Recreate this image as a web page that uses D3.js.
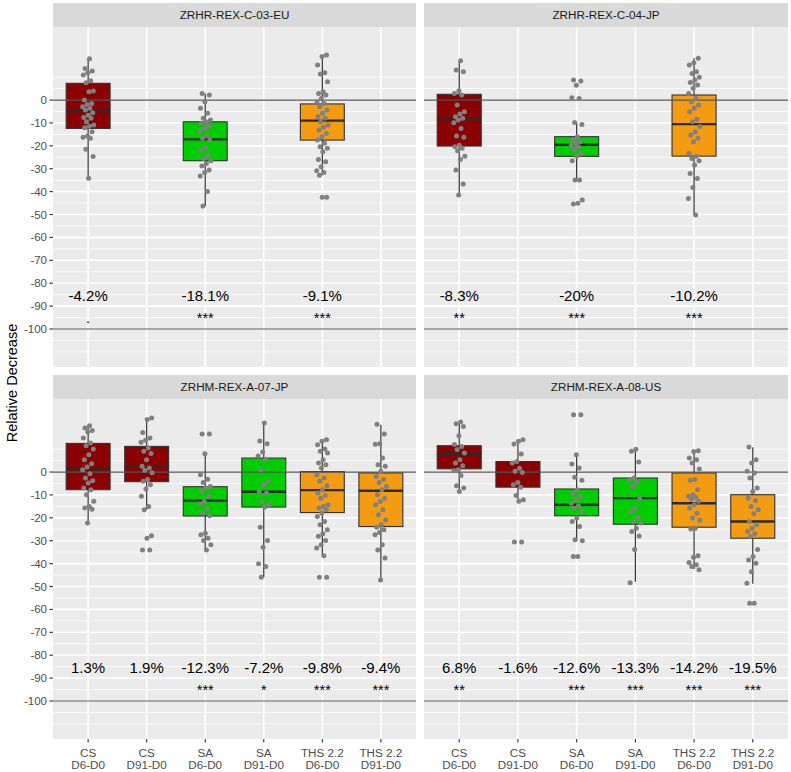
<!DOCTYPE html>
<html><head><meta charset="utf-8">
<script src="https://cdn.jsdelivr.net/npm/d3@7"></script>
<style>
body{margin:0;background:#fff}
svg{display:block}
text{font-family:"Liberation Sans",Arial,Helvetica,sans-serif}
</style>
</head><body>
<svg id="chart" width="791" height="772"></svg>
<script>
// ---------- data ----------
const categories = ["CS D6-D0","CS D91-D0","SA D6-D0","SA D91-D0","THS 2.2 D6-D0","THS 2.2 D91-D0"];
const catProduct = ["CS","CS","SA","SA","THS 2.2","THS 2.2"];
const catPeriod  = ["D6-D0","D91-D0","D6-D0","D91-D0","D6-D0","D91-D0"];
const products = ["CS","SA","THS 2.2"];
const productColors = ["#8B0000","#00CD00","#F39C12"];
const panelTitles = ["ZRHR-REX-C-03-EU","ZRHR-REX-C-04-JP","ZRHM-REX-A-07-JP","ZRHM-REX-A-08-US"];
const yTicks = [0,-10,-20,-30,-40,-50,-60,-70,-80,-90,-100];
const yMinor = [10,5,-5,-15,-25,-35,-45,-55,-65,-75,-85,-95,-105,-110];
const refLines = [0,-100];

// box statistics per panel: [category, lower whisker, q1, median, q3, upper whisker]
const statsC03 = [[0,-34.2,-12.4,-4.8,7.3,17.9],[2,-46.3,-26.5,-17.2,-9.5,2.9],[4,-32.8,-17.5,-9.0,-1.7,19.7]];
const statsC04 = [[0,-41.5,-20.1,-8.3,2.5,17.0],[2,-34.9,-24.6,-19.5,-16.0,-9.8],[4,-50.2,-24.5,-10.5,2.2,18.2]];
const statsA07 = [[0,-22.3,-7.7,1.3,12.5,20.2],[1,-16.5,-4.2,2.5,11.2,23.6],[2,-34.0,-19.2,-12.5,-6.4,7.9],
                  [3,-45.9,-15.3,-8.6,6.1,21.4],[4,-36.6,-17.7,-7.9,0.2,13.8],[5,-47.1,-23.8,-8.2,-0.4,20.7]];
const statsA08 = [[0,-8.5,1.4,8.0,11.5,21.4],[1,-11.8,-6.6,-0.3,4.6,13.7],[2,-30.0,-19.1,-14.3,-7.4,8.0],
                  [3,-47.9,-22.8,-11.4,-2.6,10.0],[4,-42.4,-24.1,-13.6,-0.4,9.3],[5,-48.8,-28.9,-21.6,-9.9,10.8]];

// individual observations per panel, keyed by category index
const pointsC03 = {
  0:[18.0,13.8,12.7,11.9,10.9,8.4,7.6,3.9,3.6,0,-1.5,-1.9,-2.9,-3.6,-4.4,-5.5,-6.6,-7.6,-8.0,-9.5,-10.9,-11.4,-12.1,-13.8,-15.7,-16.3,-16.7,-21.5,-24.7,-34.2],
  2:[2.9,2.2,-0.7,-3.6,-5.8,-8.0,-8.7,-9.5,-10.2,-11.4,-12.4,-13.8,-15.3,-16.7,-17.5,-20.7,-21.8,-24.0,-25.5,-26.5,-27.7,-28.8,-30.6,-31.7,-33.2,-40.0,-46.3],
  4:[19.7,19.0,15.3,11.9,11.4,8.0,3.6,2.9,2.2,0.7,-0.7,-1.5,-2.9,-4.4,-5.8,-7.3,-8.0,-9.5,-10.9,-11.9,-13.1,-14.6,-16.0,-17.5,-18.9,-20.4,-21.1,-22.6,-26.0,-27.0,-29.1,-30.9,-31.6,-32.8,-42.5,-42.5]
};
const pointsC04 = {
  0:[17.2,13.1,12.4,4.1,2.9,2.2,-2.2,-5.1,-6.1,-7.3,-8.0,-8.7,-9.9,-12.4,-15.7,-16.3,-19.7,-20.4,-21.1,-22.1,-24.5,-26.0,-30.6,-36.7,-41.5],
  2:[8.7,8.3,6.5,1.0,0.7,-9.8,-10.7,-16.0,-17.5,-18.2,-19.0,-19.7,-20.4,-21.8,-23.3,-24.5,-26.5,-34.9,-34.9,-43.7,-45.1,-45.4],
  4:[18.2,16.3,15.3,12.4,11.6,9.9,8.7,7.7,6.6,5.1,2.9,0.7,-0.7,-2.2,-3.6,-5.1,-8.4,-9.5,-11.6,-13.8,-15.3,-16.7,-18.2,-23.3,-24.5,-25.5,-26.5,-28.4,-32.1,-34.3,-38.2,-43.0,-50.2]
};
const pointsA07 = {
  0:[20.2,19.2,18.1,17.5,14.9,12.7,11.5,10.1,7.6,5.4,3.6,2.2,1.0,-0.7,-2.6,-3.8,-4.8,-7.0,-7.7,-9.9,-12.8,-15.0,-15.7,-16.2,-22.3],
  1:[23.6,22.9,17.3,14.9,13.9,13.0,10.5,9.1,8.1,5.4,2.5,1.8,0.8,-0.3,-3.3,-4.0,-5.5,-7.4,-10.6,-15.0,-16.5,-27.8,-28.9,-34.0,-34.0],
  2:[16.6,16.6,8.0,-1.2,-3.1,-4.6,-6.3,-7.0,-8.5,-10.6,-12.9,-14.0,-15.8,-17.9,-19.1,-26.7,-27.4,-28.9,-29.9,-31.8,-34.0],
  3:[21.4,13.6,12.4,8.7,7.0,5.4,1.0,-4.0,-5.5,-8.5,-9.2,-12.9,-14.3,-15.3,-24.1,-29.9,-32.8,-40.1,-41.3,-45.9],
  4:[14.1,13.4,11.9,10.1,9.1,8.3,5.4,4.0,3.2,1.8,-1.2,-2.6,-4.0,-6.0,-7.7,-9.2,-10.3,-11.4,-14.3,-15.0,-15.7,-16.5,-17.9,-19.4,-21.6,-23.0,-25.2,-26.9,-28.1,-29.9,-31.8,-33.2,-36.6,-45.9,-45.9],
  5:[20.9,16.6,12.4,12.1,6.1,3.2,2.5,0.3,-1.9,-3.3,-4.6,-6.3,-7.7,-9.9,-11.4,-12.9,-14.3,-16.5,-18.7,-20.9,-23.0,-24.1,-25.2,-26.4,-27.4,-31.8,-34.0,-37.6,-47.1]
};
const pointsA08 = {
  0:[21.8,21.1,19.9,15.9,12.0,11.2,9.8,8.3,5.4,4.0,2.8,1.0,0.6,-1.5,-6.0,-7.0,-8.5],
  1:[14.1,13.4,12.2,7.9,4.6,3.9,1.7,0.3,-0.2,-4.6,-5.5,-6.6,-10.3,-12.1,-12.8,-30.6,-30.6],
  2:[25.0,25.0,7.6,3.5,1.8,-2.3,-3.6,-7.7,-9.2,-10.6,-12.1,-13.6,-14.7,-15.8,-17.2,-20.1,-21.6,-23.8,-29.6,-30.0,-36.9,-36.9],
  3:[10.0,9.1,4.4,-2.6,-3.3,-4.5,-6.3,-11.4,-15.8,-17.2,-19.7,-21.6,-22.3,-24.5,-26.0,-27.9,-33.8,-48.4],
  4:[9.3,9.0,6.1,5.4,4.0,1.3,-3.3,-3.6,-7.7,-9.9,-10.6,-11.1,-11.8,-12.8,-14.3,-15.8,-18.0,-20.1,-21.1,-24.5,-24.9,-36.6,-37.2,-39.5,-40.5,-41.3,-42.7],
  5:[10.9,5.4,4.0,0.3,-0.4,-2.6,-7.0,-8.5,-11.4,-12.4,-15.0,-16.5,-18.2,-21.6,-23.0,-24.5,-26.0,-27.0,-28.2,-33.8,-36.9,-38.4,-39.8,-43.5,-48.6,-57.3,-57.3]
};

// annotation: percent change and significance per category
const pctC03 = [[0,"-4.2%","."],[2,"-18.1%","***"],[4,"-9.1%","***"]];
const pctC04 = [[0,"-8.3%","**"],[2,"-20%","***"],[4,"-10.2%","***"]];
const pctA07 = [[0,"1.3%",""],[1,"1.9%",""],[2,"-12.3%","***"],[3,"-7.2%","*"],[4,"-9.8%","***"],[5,"-9.4%","***"]];
const pctA08 = [[0,"6.8%","**"],[1,"-1.6%",""],[2,"-12.6%","***"],[3,"-13.3%","***"],[4,"-14.2%","***"],[5,"-19.5%","***"]];
const labelY = -87.7, sigY = -97.6;

// ---------- layout ----------
const svg = d3.select("#chart");
const W = 791, H = 772;
svg.append("rect").attr("width",W).attr("height",H).attr("fill","#fff");

const panelDefs = [
  {title:panelTitles[0], stats:statsC03, pts:pointsC03, pct:pctC03, x0:53,  x1:416, y0:27,  y1:367, left:true,  bottom:false},
  {title:panelTitles[1], stats:statsC04, pts:pointsC04, pct:pctC04, x0:424, x1:788, y0:27,  y1:367, left:false, bottom:false},
  {title:panelTitles[2], stats:statsA07, pts:pointsA07, pct:pctA07, x0:53,  x1:416, y0:399, y1:739, left:true,  bottom:true},
  {title:panelTitles[3], stats:statsA08, pts:pointsA08, pct:pctA08, x0:424, x1:788, y0:399, y1:739, left:false, bottom:true}
];
const stripH = 24;
const boxW = 0.75;
const jitterW = 0.1;
const colorScale = d3.scaleOrdinal().domain(products).range(productColors);

panelDefs.forEach(p => {
  const x = d3.scaleLinear().domain([0.4, categories.length + 0.6]).range([p.x0, p.x1]);
  const y = d3.scaleLinear().domain([-116.6, 31.9]).range([p.y1, p.y0]);
  const g = svg.append("g");

  // strip
  g.append("rect").attr("x",p.x0).attr("y",p.y0-stripH).attr("width",p.x1-p.x0).attr("height",stripH).attr("fill","#d9d9d9");
  g.append("text").attr("x",(p.x0+p.x1)/2).attr("y",p.y0-stripH/2).attr("dy","0.35em")
    .attr("text-anchor","middle").attr("font-size",11.7).attr("fill","#1a1a1a").text(p.title);

  // panel background
  g.append("rect").attr("x",p.x0).attr("y",p.y0).attr("width",p.x1-p.x0).attr("height",p.y1-p.y0).attr("fill","#ebebeb");

  // grid
  g.selectAll(".ymin").data(yMinor).enter().append("line")
    .attr("x1",p.x0).attr("x2",p.x1).attr("y1",d=>y(d)).attr("y2",d=>y(d))
    .attr("stroke","#fff").attr("stroke-width",0.8);
  g.selectAll(".ymaj").data(yTicks).enter().append("line")
    .attr("x1",p.x0).attr("x2",p.x1).attr("y1",d=>y(d)).attr("y2",d=>y(d))
    .attr("stroke","#fff").attr("stroke-width",1.6);
  g.selectAll(".xmaj").data(categories).enter().append("line")
    .attr("x1",(d,i)=>x(i+1)).attr("x2",(d,i)=>x(i+1)).attr("y1",p.y0).attr("y2",p.y1)
    .attr("stroke","#fff").attr("stroke-width",1.6);

  // boxes
  const bg = g.append("g");
  p.stats.forEach(s => {
    const [ci, lo, q1, med, q3, hi] = s;
    const cx = x(ci+1);
    const hw = (x(1+boxW/2) - x(1-boxW/2))/2;
    bg.append("line").attr("x1",cx).attr("x2",cx).attr("y1",y(hi)).attr("y2",y(q3)).attr("stroke","#333").attr("stroke-width",1.2);
    bg.append("line").attr("x1",cx).attr("x2",cx).attr("y1",y(q1)).attr("y2",y(lo)).attr("stroke","#333").attr("stroke-width",1.2);
    bg.append("rect").attr("x",cx-hw).attr("y",y(q3)).attr("width",hw*2).attr("height",y(q1)-y(q3))
      .attr("fill",colorScale(catProduct[ci])).attr("stroke","#333").attr("stroke-width",1.1);
    bg.append("line").attr("x1",cx-hw).attr("x2",cx+hw).attr("y1",y(med)).attr("y2",y(med)).attr("stroke","#2a2a2a").attr("stroke-width",2.4);
  });

  // reference lines
  g.selectAll(".ref").data(refLines).enter().append("line")
    .attr("x1",p.x0).attr("x2",p.x1).attr("y1",d=>y(d)).attr("y2",d=>y(d))
    .attr("stroke","#555").attr("stroke-width",1.2);

  // jittered points (deterministic low-discrepancy offsets)
  Object.keys(p.pts).forEach(k => {
    const ci = +k;
    p.pts[k].forEach((v,i) => {
      const frac = ((i+1) * 0.6180339887 + ci*0.31) % 1;
      const off = (frac - 0.5) * 2 * jitterW;
      g.append("circle").attr("cx",x(ci+1+off)).attr("cy",y(v)).attr("r",2.5).attr("fill","#808080");
    });
  });

  // annotations
  p.pct.forEach(a => {
    const [ci, txt, sig] = a;
    g.append("text").attr("x",x(ci+1)).attr("y",y(labelY)).attr("text-anchor","middle")
      .attr("font-size",15).attr("fill","#000").text(txt);
    if (sig) g.append("text").attr("x",x(ci+1)).attr("y",y(sigY)).attr("text-anchor","middle")
      .attr("font-size",14.5).attr("fill","#000").text(sig);
  });

  // y axis
  if (p.left) {
    const ya = svg.append("g");
    yTicks.forEach(t => {
      ya.append("line").attr("x1",p.x0-3.6).attr("x2",p.x0).attr("y1",y(t)).attr("y2",y(t)).attr("stroke","#333").attr("stroke-width",1.1);
      ya.append("text").attr("x",p.x0-6).attr("y",y(t)).attr("dy","0.35em").attr("text-anchor","end")
        .attr("font-size",11.5).attr("fill","#4d4d4d").text(t);
    });
  }
  // x axis
  if (p.bottom) {
    const xa = svg.append("g");
    categories.forEach((c,i) => {
      const cx = x(i+1);
      xa.append("line").attr("x1",cx).attr("x2",cx).attr("y1",p.y1).attr("y2",p.y1+3.6).attr("stroke","#333").attr("stroke-width",1.1);
      const t = xa.append("text").attr("text-anchor","middle").attr("font-size",11.7).attr("fill","#4d4d4d");
      t.append("tspan").attr("x",cx).attr("y",p.y1+17.5).text(catProduct[i]);
      t.append("tspan").attr("x",cx).attr("y",p.y1+30).text(catPeriod[i]);
    });
  }
});

// y-axis title
svg.append("text").attr("transform","translate(17,383) rotate(-90)").attr("text-anchor","middle")
  .attr("font-size",14.5).attr("fill","#000").text("Relative Decrease");
</script>
</body></html>
